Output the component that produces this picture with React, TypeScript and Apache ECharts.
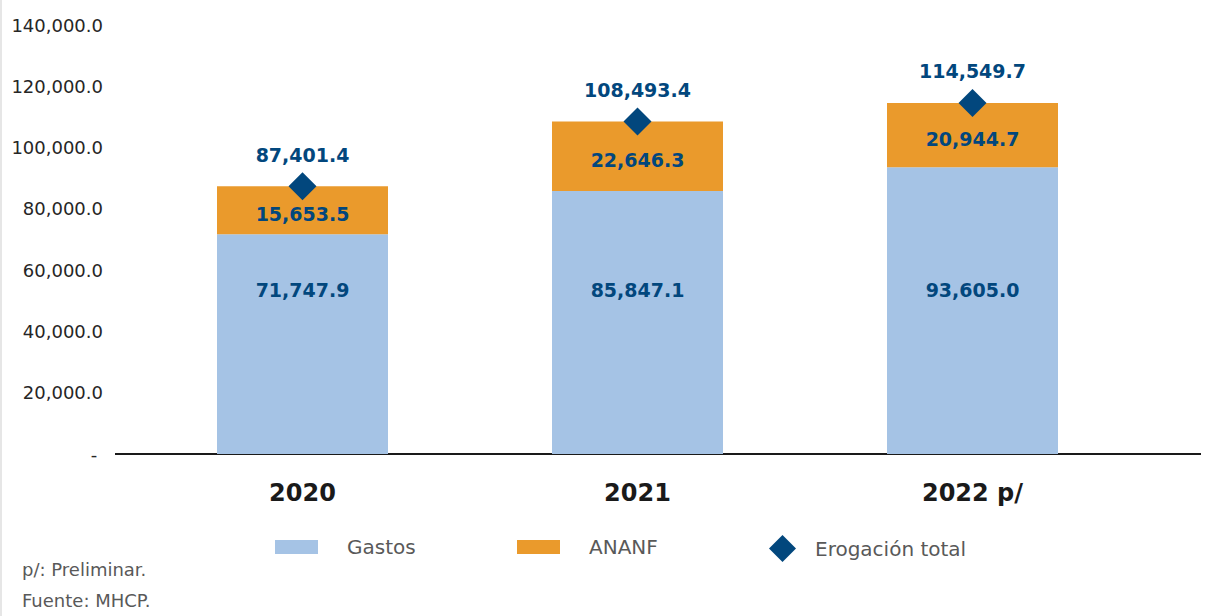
import React, { useEffect, useRef } from "react";
import * as echarts from "echarts";

const categories = ["2020", "2021", "2022 p/"];
const gastos = [71747.9, 85847.1, 93605.0];
const ananf = [15653.5, 22646.3, 20944.7];
const erogacionTotal = [87401.4, 108493.4, 114549.7];
const yTicks = { min: 0, max: 140000, interval: 20000 };

const FONT = "DejaVu Sans";
const BLUE_DARK = "#02477D";
const C_GASTOS = "#A5C3E5";
const C_ANANF = "#EA9A2C";

const fmt = (v: number) =>
  v.toLocaleString("en-US", { minimumFractionDigits: 1, maximumFractionDigits: 1 });

export default function App() {
  const ref = useRef<HTMLDivElement>(null);
  useEffect(() => {
    document.body.style.margin = "0";
    const chart = echarts.init(ref.current!, undefined, { renderer: "svg" });
    const legendText = { fontFamily: FONT, fontSize: 20, color: "#595959", padding: [0, 0, 0, 24] };
    const valueLabel = {
      fontFamily: FONT,
      fontSize: 19,
      fontWeight: "bold",
      color: BLUE_DARK,
      formatter: (p: any) => fmt(p.value),
    };
    chart.setOption({
      animation: false,
      grid: { left: 135, right: 66, top: 25, bottom: 162 },
      xAxis: {
        type: "category",
        data: categories,
        axisLine: { show: false },
        axisTick: { show: false },
        axisLabel: { fontFamily: FONT, fontSize: 24, fontWeight: "bold", color: "#1a1a1a", margin: 27 },
      },
      yAxis: {
        type: "value",
        min: yTicks.min,
        max: yTicks.max,
        interval: yTicks.interval,
        splitLine: { show: false },
        axisLine: { show: false },
        axisTick: { show: false },
        axisLabel: {
          fontFamily: FONT,
          fontSize: 18,
          color: "#262626",
          margin: 32,
          formatter: (v: number) => (v === 0 ? "- " : fmt(v)),
        },
      },
      legend: [
        { data: [{ name: "Gastos", icon: "rect" }], left: 275, top: 537, itemWidth: 43, itemHeight: 14, padding: 0, textStyle: legendText },
        { data: [{ name: "ANANF", icon: "rect" }], left: 517, top: 537, itemWidth: 43, itemHeight: 14, padding: 0, textStyle: legendText },
        { data: ["Erogación total"], left: 769, top: 535, itemWidth: 27, itemHeight: 27, padding: 0, textStyle: { ...legendText, padding: [0, 0, 0, 14] } },
      ],
      series: [
        {
          name: "Gastos",
          type: "bar",
          stack: "t",
          data: gastos,
          barWidth: 171,
          itemStyle: { color: C_GASTOS },
          label: { show: true, position: "insideBottom", distance: 155, ...valueLabel },
        },
        {
          name: "ANANF",
          type: "bar",
          stack: "t",
          data: ananf,
          barWidth: 171,
          itemStyle: { color: C_ANANF },
          label: { show: true, position: "inside", offset: [0, 4], ...valueLabel },
        },
        {
          name: "Erogación total",
          type: "scatter",
          data: erogacionTotal,
          symbol: "diamond",
          symbolSize: 28,
          itemStyle: { color: BLUE_DARK, opacity: 1 },
          label: { show: true, position: "top", distance: 8, ...valueLabel },
          z: 5,
        },
      ],
      graphic: [
        { type: "rect", shape: { x: 0, y: 0, width: 2, height: 616 }, style: { fill: "#e6e6e6" } },
        { type: "line", shape: { x1: 115, y1: 454, x2: 1201, y2: 454 }, style: { stroke: "#1a1a1a", lineWidth: 2 } },
        { type: "text", left: 22, top: 560, style: { text: "p/: Preliminar.", fontFamily: FONT, fontSize: 18, fill: "#595959" } },
        { type: "text", left: 22, top: 591, style: { text: "Fuente: MHCP.", fontFamily: FONT, fontSize: 18, fill: "#595959" } },
      ],
    });
    return () => chart.dispose();
  }, []);
  return <div ref={ref} style={{ width: 1206, height: 616 }} />;
}
